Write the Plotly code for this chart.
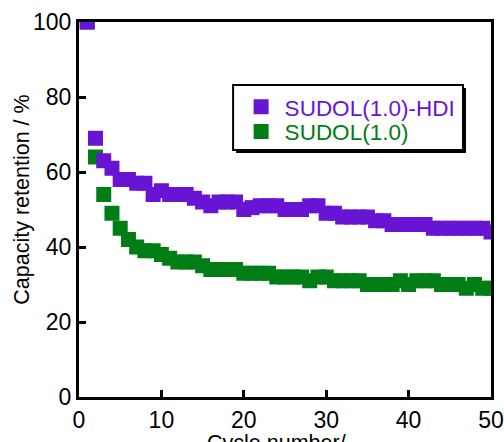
import plotly.graph_objects as go

# Cycle index 1..50
cycles = list(range(1, 51))

# Capacity retention (%) per cycle
hdi_retention = [100, 69, 63, 61, 58, 58, 57, 57, 54, 55,
                 54, 54, 54, 53, 52, 51, 52, 52, 52, 50,
                 50.5, 51, 51, 51, 50, 50, 50, 51, 51, 49,
                 49, 48, 48, 48, 48, 47, 47, 46, 46, 46,
                 46, 46, 45, 45, 45, 45, 45, 45, 45, 44]
sudol_retention = [100, 64, 54, 49, 45, 42, 40, 39, 39, 38,
                   37, 36, 36, 36, 35, 34, 34, 34, 34, 33,
                   33, 33, 33, 32, 32, 32, 32, 31, 32, 32,
                   31, 31, 31, 31, 30, 30, 30, 30, 31, 30,
                   31, 31, 31, 30, 30, 30, 29, 30, 29, 29]

series_names = ["SUDOL(1.0)-HDI", "SUDOL(1.0)"]
series_colors = ["#6814D4", "#007D14"]

x_ticks = [0, 10, 20, 30, 40, 50]
y_ticks = [0, 20, 40, 60, 80, 100]

FONT = "Liberation Sans, Arial, sans-serif"
TICK_SIZE = 23
TITLE_SIZE = 21.5
LEGEND_SIZE = 22.5

fig = go.Figure()

# green series first so the purple squares sit on top;
# each series gets its own legend so the rows can be spaced freely
fig.add_trace(go.Scatter(
    x=cycles, y=sudol_retention, mode="markers",
    name=f"<span style='color:{series_colors[1]}'>{series_names[1]}</span>",
    marker=dict(symbol="square", size=15, color=series_colors[1], line=dict(width=0)),
    legend="legend2",
))
fig.add_trace(go.Scatter(
    x=cycles, y=hdi_retention, mode="markers",
    name=f"<span style='color:{series_colors[0]}'>{series_names[0]}</span>",
    marker=dict(symbol="square", size=15, color=series_colors[0], line=dict(width=0)),
    legend="legend",
))

axis_common = dict(
    showline=True, linecolor="black", linewidth=3, mirror=True,
    ticks="inside", ticklen=7, tickwidth=3, tickcolor="black",
    showgrid=False, zeroline=False, automargin=False,
    tickfont=dict(family=FONT, size=TICK_SIZE, color="black"),
)

fig.update_xaxes(range=[0, 50], tickvals=x_ticks, **axis_common)
fig.update_yaxes(range=[0, 100], tickvals=y_ticks, **axis_common)

legend_common = dict(
    xanchor="left", yanchor="middle",
    bgcolor="rgba(0,0,0,0)", borderwidth=0,
    font=dict(family=FONT, size=LEGEND_SIZE),
    itemwidth=37,
)

# legend frame with a drop shadow
shadow_off_x = 3 / 412
shadow_off_y = 3 / 375
box = dict(x0=0.374, x1=0.932, y0=0.659, y1=0.832)

fig.update_layout(
    width=504, height=442,
    margin=dict(l=79, r=13, t=22, b=45),
    paper_bgcolor="white", plot_bgcolor="white",
    font=dict(family=FONT, size=TITLE_SIZE, color="black"),
    showlegend=True,
    legend=dict(x=0.385, y=0.773, **legend_common),
    legend2=dict(x=0.385, y=0.707, **legend_common),
    shapes=[
        dict(type="rect", xref="paper", yref="paper", layer="above",
             x0=box["x0"] + shadow_off_x, x1=box["x1"] + shadow_off_x,
             y0=box["y0"] - shadow_off_y, y1=box["y1"] - shadow_off_y,
             fillcolor="black", line=dict(width=0)),
        dict(type="rect", xref="paper", yref="paper", layer="above",
             x0=box["x0"], x1=box["x1"], y0=box["y0"], y1=box["y1"],
             fillcolor="white", line=dict(color="black", width=2)),
    ],
    annotations=[
        dict(text="Cycle number/-", xref="paper", yref="paper",
             x=0.487, y=-0.085, xanchor="center", yanchor="top",
             showarrow=False, font=dict(family=FONT, size=TITLE_SIZE, color="black")),
        dict(text="Capacity retention / %", xref="paper", yref="paper",
             x=-0.137, y=0.525, xanchor="center", yanchor="middle", textangle=-90,
             showarrow=False, font=dict(family=FONT, size=TITLE_SIZE, color="black")),
    ],
)

fig.write_html("out.html")
